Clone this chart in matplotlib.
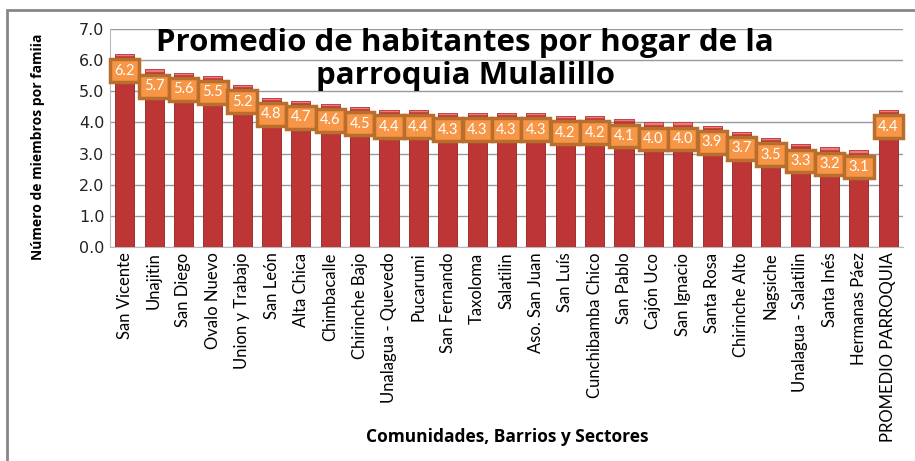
import matplotlib.pyplot as plt
import numpy as np
from matplotlib.patches import Rectangle

# Data
comunidades = ["San Vicente", "Unajitin", "San Diego", "Ovalo Nuevo", "Union y Trabajo",
               "San León", "Alta Chica", "Chimbacalle", "Chirinche Bajo", "Unalagua - Quevedo",
               "Pucarumi", "San Fernando", "Taxoloma", "Salatilin", "Aso. San Juan",
               "San Luís", "Cunchibamba Chico", "San Pablo", "Cajón Uco", "San Ignacio",
               "Santa Rosa", "Chirinche Alto", "Nagsiche", "Unalagua - Salatilin",
               "Santa Inés", "Hermanas Páez", "PROMEDIO PARROQUIA"]
promedio = [6.2, 5.7, 5.6, 5.5, 5.2, 4.8, 4.7, 4.6, 4.5, 4.4, 4.4, 4.3, 4.3, 4.3, 4.3,
            4.2, 4.2, 4.1, 4.0, 4.0, 3.9, 3.7, 3.5, 3.3, 3.2, 3.1, 4.4]
yticks = [0, 1, 2, 3, 4, 5, 6, 7]

plt.rcParams['font.family'] = ['Lato', 'DejaVu Sans']

fig = plt.figure(figsize=(9.15, 4.61), dpi=100)
ax = fig.add_axes([110/915, 1 - 247/461, (903-110)/915, (247-29)/461])

# outer chart border (top and left edges visible)
fig.patches.append(Rectangle((7/915, -0.1), 1.2, 1 - 10/461 + 0.1, transform=fig.transFigure,
                             fill=False, edgecolor='#888888', linewidth=2))

x = np.arange(len(comunidades))
ax.bar(x, promedio, width=0.65, color='#BE3535', edgecolor='#8E2222', linewidth=0.6, zorder=3)
# little pink caps on top of the bars
ax.bar(x, [0.07] * len(x), bottom=np.array(promedio) - 0.07, width=0.65,
       color='#F07878', edgecolor='#C04040', linewidth=0.5, zorder=4)

for xi, v in zip(x, promedio):
    ax.annotate(f"{v:.1f}", (xi, v), xytext=(0, -12), textcoords='offset points',
                ha='center', va='center', color='white', fontsize=10.5, zorder=6,
                bbox=dict(boxstyle='square,pad=0.3', facecolor='#F79646',
                          edgecolor='#B86E2C', linewidth=2.5))

ax.set_xlim(-0.5, len(x) - 0.5)
ax.set_ylim(0, 7)
ax.set_yticks(yticks)
ax.set_yticklabels([f"{t:.1f}" for t in yticks], fontsize=11.5, family='DejaVu Sans', color='#222222')
ax.set_xticks(x)
ax.set_xticklabels(comunidades, rotation=90, fontsize=12)
ax.tick_params(axis='both', length=0, pad=4)
ax.grid(axis='y', color='#999999', linewidth=1, zorder=0)
for s in ['top', 'right']:
    ax.spines[s].set_visible(False)
ax.spines['left'].set_color('#bbbbbb')
ax.spines['bottom'].set_color('#bbbbbb')

ax.set_ylabel("Número de miembros por famiia", fontsize=10, fontweight='bold',
              family='Open Sans')
ax.yaxis.set_label_coords(-65/793, 0.46)
fig.text(507/915, 1 - 437/461, "Comunidades, Barrios y Sectores", ha='center', va='center',
         fontsize=12.5, fontweight='bold', family='Open Sans')

# title, one text per line
fig.text(465/915, 1 - 43/461, "Promedio de habitantes por hogar de la",
         ha='center', va='center', fontsize=22.5, fontweight='bold', family='Open Sans')
fig.text(465/915, 1 - 76/461, "parroquia Mulalillo",
         ha='center', va='center', fontsize=22.5, fontweight='bold', family='Open Sans')

fig.savefig("out.png", dpi=100)
